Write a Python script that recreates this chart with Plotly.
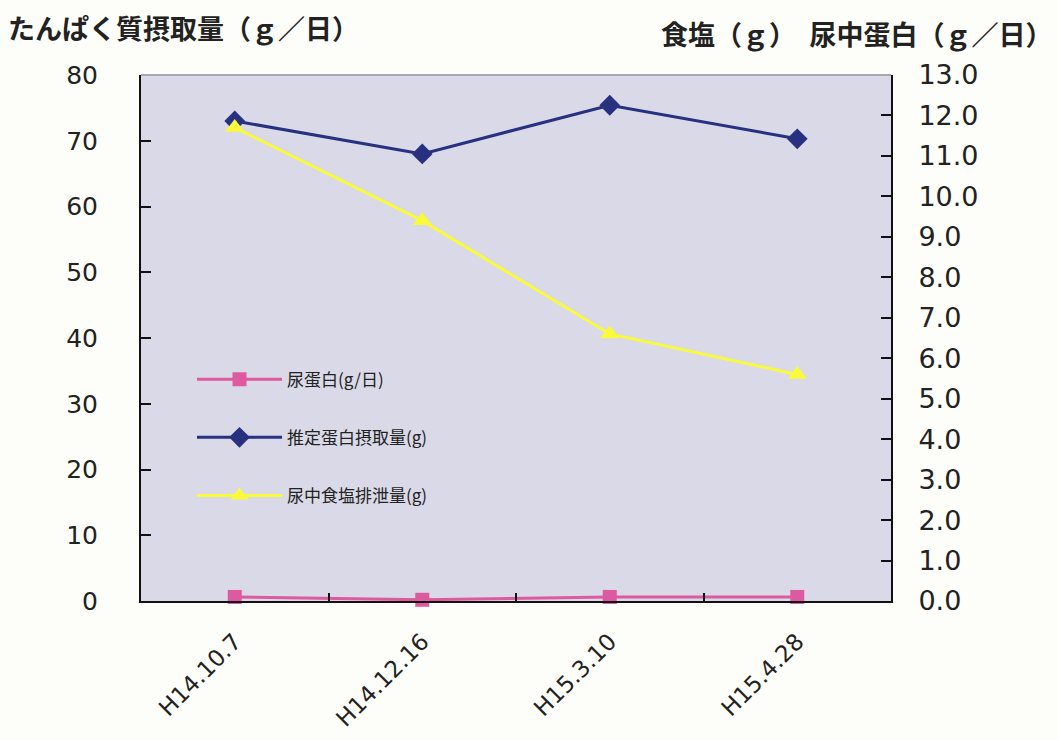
import plotly.graph_objects as go

dates = ["H14.10.7", "H14.12.16", "H15.3.10", "H15.4.28"]
urine_protein = [0.1, 0.03, 0.1, 0.1]          # 尿蛋白(g/日) right axis
protein_intake = [73.0, 68.0, 75.4, 70.3]       # 推定蛋白摂取量(g) left axis
salt_excretion = [11.7, 9.4, 6.6, 5.6]          # 尿中食塩排泄量(g) right axis

left_ticks = list(range(0, 81, 10))
right_ticks = [i * 1.0 for i in range(0, 14)]

CJK = "Noto Sans CJK JP"
TICKFONT = "DejaVu Sans"

fig = go.Figure()
fig.add_trace(go.Scatter(
    x=dates, y=urine_protein, name="尿蛋白(g/日)", yaxis="y2",
    mode="lines+markers", line=dict(color="#de5aa0", width=3),
    marker=dict(symbol="square", size=14, color="#de5aa0"),
    cliponaxis=False, legendgroup="a"))
fig.add_trace(go.Scatter(
    x=dates, y=protein_intake, name="推定蛋白摂取量(g)", yaxis="y",
    mode="lines+markers", line=dict(color="#283080", width=3),
    marker=dict(symbol="diamond", size=16, color="#283080"),
    cliponaxis=False, legendgroup="b"))
fig.add_trace(go.Scatter(
    x=dates, y=salt_excretion, name="尿中食塩排泄量(g)", yaxis="y2",
    mode="lines+markers", line=dict(color="#fafa3c", width=3),
    marker=dict(symbol="triangle-up", size=17, color="#fafa3c"),
    cliponaxis=False, legendgroup="c"))

fig.update_layout(
    width=1058, height=740,
    margin=dict(l=141, r=167, t=75, b=139),
    paper_bgcolor="#fdfdf9",
    plot_bgcolor="#d9d9e7",
    showlegend=True,
    legend=dict(x=0.068, y=0.455, xanchor="left", yanchor="top",
                bgcolor="rgba(0,0,0,0)", font=dict(family=CJK, size=17, color="#222"),
                tracegroupgap=33, itemwidth=85),
    xaxis=dict(type="category", range=[-0.5, 3.5], showline=True, linecolor="#111",
               linewidth=2, ticks="inside", tickson="boundaries", ticklen=8,
               tickcolor="#111", tickwidth=2, tickangle=-45,
               tickfont=dict(family=TICKFONT, size=23, color="#222"),
               ticklabelstandoff=16, automargin=False,
               showgrid=False, zeroline=False),
    yaxis=dict(range=[0, 80], tickvals=left_ticks, showline=True, linecolor="#111",
               linewidth=2, ticks="inside", ticklen=10, tickcolor="#111", tickwidth=2,
               tickfont=dict(family=TICKFONT, size=25, color="#222"),
               ticklabelstandoff=36, automargin=False, showgrid=False, zeroline=False),
    yaxis2=dict(range=[0, 13], tickvals=right_ticks, tickformat=".1f", overlaying="y",
                side="right", showline=True, linecolor="#111", linewidth=2,
                ticks="inside", ticklen=10, tickcolor="#111", tickwidth=2,
                tickfont=dict(family=TICKFONT, size=27, color="#222"),
                ticklabelstandoff=20, automargin=False, showgrid=False, zeroline=False),
    shapes=[dict(type="line", xref="paper", yref="paper", x0=0, x1=1, y0=1, y1=1,
                 line=dict(color="#a8a8b0", width=2))],
    annotations=[
        dict(text="<b>たんぱく質摂取量（ｇ／日）</b>", xref="paper", yref="paper",
             x=-135/750, y=1 + 47/526, xanchor="left", yanchor="middle", showarrow=False,
             font=dict(family=CJK, size=27, color="#222")),
        dict(text="<b>食塩（ｇ）　尿中蛋白（ｇ／日）</b>", xref="paper", yref="paper",
             x=1 + 164/750, y=1 + 42/526, xanchor="right", yanchor="middle", showarrow=False,
             font=dict(family=CJK, size=27, color="#222")),
    ],
)

fig.write_html("out.html")
